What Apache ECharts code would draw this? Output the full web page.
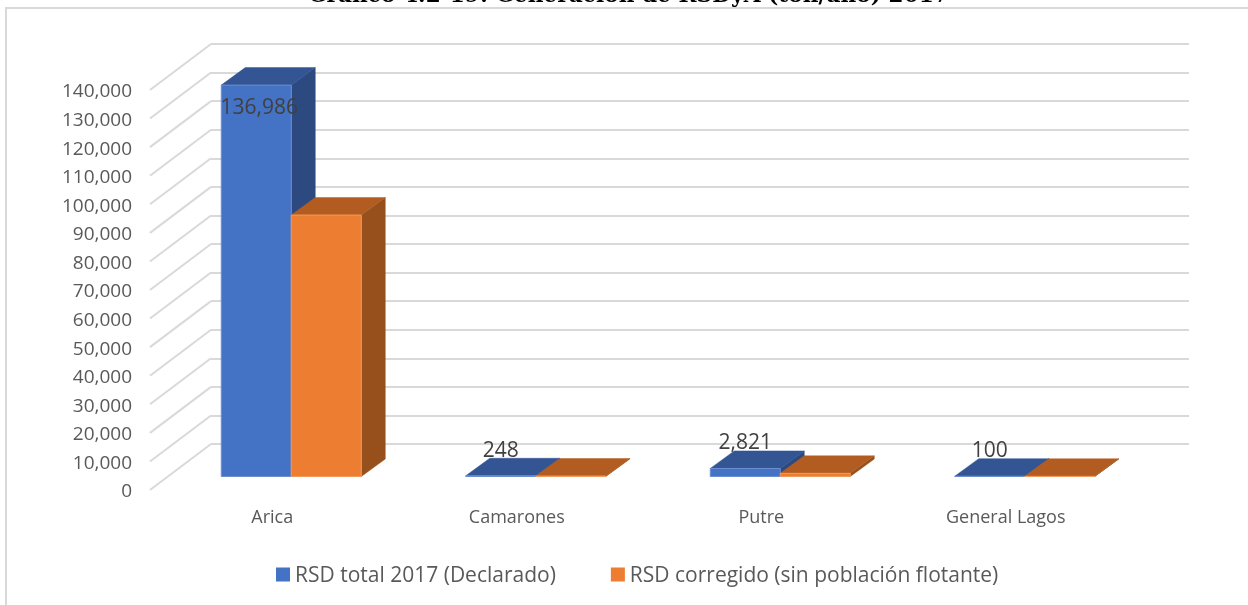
<!DOCTYPE html>
<html><head><meta charset="utf-8">
<style>html,body{margin:0;padding:0;background:#fff}#c{width:1248px;height:605px}</style>
<script src="https://cdn.jsdelivr.net/npm/echarts@6/dist/echarts.min.js"></script>
</head><body><div id="c"></div>
<script>
const categories = ['Arica','Camarones','Putre','General Lagos'];
const declarado = [136986,248,2821,100];
const corregido = [91500,170,1100,70];
const yTicks = [0,10000,20000,30000,40000,50000,60000,70000,80000,90000,100000,110000,120000,130000,140000];
const seriesNames = ['RSD total 2017 (Declarado)','RSD corregido (sin población flotante)'];

const FLOOR_DX=61, FLOOR_DY=-46, OFF_X=19, OFF_Y=-13.5, BAR_W=70, D_X=24, D_Y=-17.5;
const font='"Open Sans"';
function barSeries(name,values,idx,front,top,side,edge,showLabel){
  return {
    name,type:'custom',coordinateSystem:'cartesian2d',xAxisIndex:0,yAxisIndex:0,
    clip:false,z:5,itemStyle:{color:front},
    encode:{x:0,y:1},
    data:values.map((v,i)=>[i,v]),
    renderItem(params,api){
      const cat=api.value(0),val=api.value(1);
      const t=api.coord([cat,val]),b=api.coord([cat,0]);
      const cx=t[0]+OFF_X;
      const x0=cx+(idx===0?-BAR_W:0),x1=x0+BAR_W;
      const yb=b[1]+OFF_Y,yt=t[1]+OFF_Y;
      const poly=(pts,fill,stroke)=>({type:'polygon',shape:{points:pts},style:{fill,stroke:stroke||fill,lineWidth:stroke?1:0.5}});
      const children=[
        poly([[x1,yb],[x1+D_X,yb+D_Y],[x1+D_X,yt+D_Y],[x1,yt]],side),
        poly([[x0,yt],[x0+D_X,yt+D_Y],[x1+D_X,yt+D_Y],[x1,yt]],top),
        poly([[x0,yb],[x1,yb],[x1,yt],[x0,yt]],front,edge)
      ];
      if(showLabel){
        const dy=val>100000?23:-25;
        children.push({type:'text',z2:10,style:{text:val.toLocaleString('en-US'),x:(x0+x1)/2+(val>100000?3:0),y:yt+dy,
          align:'center',verticalAlign:'middle',font:'21px '+font,fill:'#404040'}});
      }
      return {type:'group',children};
    }
  };
}
const chart=echarts.init(document.getElementById('c'),null,{renderer:'canvas'});
chart.setOption({
  animation:false,backgroundColor:'#fff',
  title:{text:'Gráfico 4.2-19: Generación de RSDyA (ton/año) 2017',left:308,top:-15,padding:0,
    textStyle:{fontFamily:'"DejaVu Serif"',fontWeight:'bold',fontSize:21.7,color:'#000'}},
  graphic:[{type:'rect',z:-10,silent:true,shape:{x:6,y:8,width:1260,height:620},style:{fill:'none',stroke:'#d9d9d9',lineWidth:2}}],
  legend:{left:271,top:561,icon:'path://M0,0H14V14H0ZM0,18Z',itemWidth:14,itemHeight:18,itemGap:55,data:seriesNames,
    selectedMode:false,textStyle:{fontFamily:font,fontSize:21,color:'#595959'}},
  grid:[
    {left:150,width:978,top:90,height:400},
    {left:211,width:978,top:44,height:400}
  ],
  xAxis:[
    {type:'category',gridIndex:0,data:categories,axisLine:{show:false},axisTick:{show:false},
      axisLabel:{margin:19,fontFamily:font,fontSize:18,color:'#595959',interval:0}},
    {type:'category',gridIndex:1,data:categories,show:false}
  ],
  yAxis:[
    {type:'value',gridIndex:0,min:0,max:140000,interval:10000,axisLine:{show:false},axisTick:{show:false},splitLine:{show:false},
      axisLabel:{margin:18,formatter:v=>'{a|'+v.toLocaleString('en-US')+'}',
        rich:{a:{fontFamily:font,fontSize:19,color:'#595959',padding:[4,0,0,0]}}}},
    {type:'value',gridIndex:1,min:0,max:140000,interval:10000,axisLine:{show:false},axisTick:{show:false},axisLabel:{show:false},
      splitLine:{show:true,lineStyle:{color:'#d9d9d9',width:2}}}
  ],
  series:[
    {type:'custom',coordinateSystem:'cartesian2d',xAxisIndex:0,yAxisIndex:0,clip:false,z:1,silent:true,
      encode:{x:0,y:1},data:yTicks.map(v=>[0,v]),
      renderItem(params,api){
        const p=api.coord([0,api.value(1)]);
        const x=p[0]-api.size([1,0])[0]/2;
        return {type:'line',shape:{x1:x,y1:p[1],x2:x+FLOOR_DX,y2:p[1]+FLOOR_DY},style:{stroke:'#d9d9d9',lineWidth:2,fill:null}};
      }},
    barSeries(seriesNames[0],declarado,0,'#4472C4','#335593','#2C4A80','#6C8FD3',true),
    barSeries(seriesNames[1],corregido,1,'#ED7D31','#B25C21','#974F1B','#F29A5E',false)
  ]
});
</script></body></html>
